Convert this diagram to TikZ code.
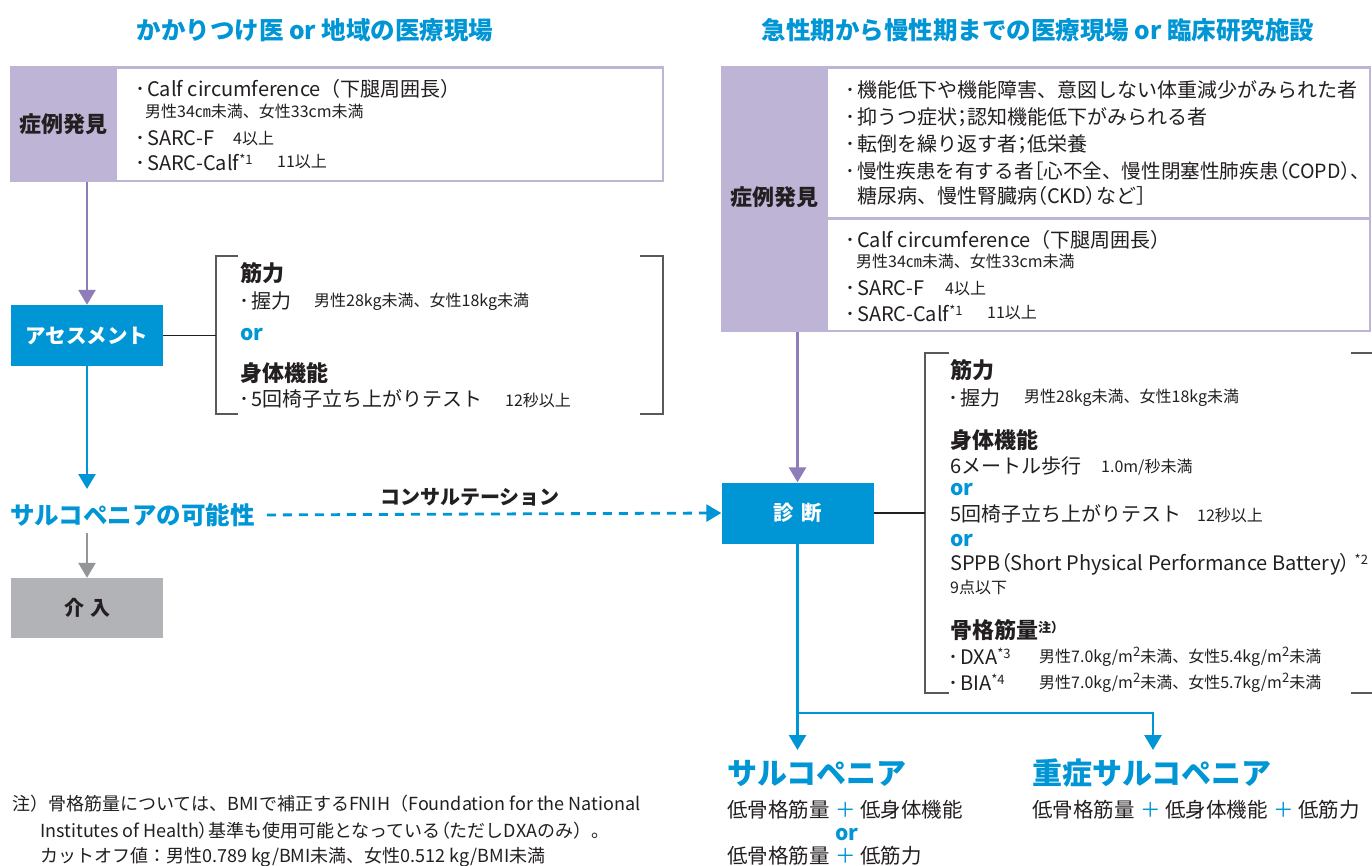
\documentclass[tikz,border=0pt]{standalone}
\usepackage{fontspec}
\setmainfont{Noto Sans CJK JP}
\usetikzlibrary{arrows.meta}
\definecolor{cblue}{RGB}{0,150,214}
\definecolor{cpurf}{RGB}{189,180,214}
\definecolor{cpura}{RGB}{142,125,184}
\definecolor{cgrayf}{RGB}{177,179,182}
\definecolor{cgraya}{RGB}{147,149,152}
\definecolor{ctext}{RGB}{35,31,32}
\definecolor{cbrk}{RGB}{88,89,91}
\newcommand\fsz[1]{\fontsize{#1}{#1}\selectfont}
\newcommand\bul{\makebox[14pt][c]{･}}
\newcommand\sups[1]{{\fsz{13}\raisebox{6pt}{#1}}}
\newcommand\pls{\hspace{6pt}{\color{cblue}＋}\hspace{4pt}}
\newcommand\pp[1]{{\addfontfeature{RawFeature=+palt}#1}}
\begin{document}
\begin{tikzpicture}[x=1pt,y=-1pt,
  txt/.style={anchor=west,inner sep=0pt,text=ctext,font=\fsz{20}},
  val/.style={anchor=west,inner sep=0pt,text=ctext,font=\fsz{16}},
  hd/.style={anchor=west,inner sep=0pt,text=ctext,font=\fsz{22}\bfseries},
  orl/.style={anchor=west,inner sep=0pt,text=cblue,font=\fsz{21}\bfseries},
  ttl/.style={inner sep=0pt,text=cblue,font=\fsz{24.5}\bfseries},
  big/.style={anchor=west,inner sep=0pt,text=cblue,font=\fsz{30}\bfseries},
  res/.style={anchor=west,inner sep=0pt,text=ctext,font=\fsz{20.5}},
  fn/.style={anchor=west,inner sep=0pt,text=ctext,font=\fsz{18}},
  lab/.style={inner sep=0pt,text=ctext,font=\fsz{22}\bfseries},
  panel/.style={fill=cpurf,anchor=north west,inner sep=0pt},
  inner/.style={fill=white,anchor=north west,inner sep=0pt},
  bluebox/.style={fill=cblue,text=white,font=\fsz{20.5}\bfseries,minimum width=152pt,minimum height=61pt,inner sep=0pt},
  graybox/.style={fill=cgrayf,text=ctext,font=\fsz{20}\bfseries,minimum width=152pt,minimum height=60pt,inner sep=0pt},
  tip/.style={-{Triangle[length=15pt,width=17pt]}},
  parr/.style={tip,draw=cpura,line width=2.8pt},
  barr/.style={tip,draw=cblue,line width=2.8pt},
  garr/.style={tip,draw=cgraya,line width=2.8pt},
  darr/.style={tip,draw=cblue,line width=2.8pt,dash pattern=on 9pt off 7pt},
  conn/.style={draw=ctext,line width=1.4pt},
  brk/.style={draw=cbrk,line width=1.6pt}
]
\useasboundingbox (0,0) rectangle (1372,866);
\fill[white] (0,0) rectangle (1372,866);

% titles
\node[ttl] (ltitle) at (315,30) {かかりつけ医 or 地域の医療現場};
\node[ttl] (rtitle) at (1038,30) {急性期から慢性期までの医療現場 or 臨床研究施設};

% left case box
\node[panel,minimum width=654pt,minimum height=116pt] (lbox) at (10,66) {};
\node[inner,minimum width=544.5pt,minimum height=111pt] (lwhite) at (117,68.5) {};
\node[lab] (lfind) at (63.5,124) {症例発見};
\node[txt] (lc1) at (133,89) {\bul Calf circumference（下腿周囲長）};
\node[val] (lc2) at (145,111) {男性34㎝未満、女性33cm未満};
\node[txt] (lc3) at (133,138) {\bul SARC-F};
\node[val] (lc3v) at (233,139) {4以上};
\node[txt] (lc4) at (133,162) {\bul SARC-Calf\sups{*1}};
\node[val] (lc4v) at (277,162) {11以上};

% assessment
\node[bluebox] (assess) at (87,335.5) {アセスメント};
\coordinate (lbk) at (216,335.5);
\draw[brk] (238,256) -| (216,414) -- (238,414);
\draw[brk] (640,256) -| (663,414) -- (640,414);
\node[hd] (lk1) at (240,273) {筋力};
\node[txt] (lk2) at (237.5,301) {\bul 握力};
\node[val] (lk2v) at (314,302) {男性28kg未満、女性18kg未満};
\node[orl] (lk3) at (240,335) {or};
\node[hd] (lk4) at (240,373) {身体機能};
\node[txt] (lk5) at (237.5,399) {\bul 5回椅子立ち上がりテスト};
\node[val] (lk5v) at (505,400) {12秒以上};

% possibility / intervention
\node[anchor=west,inner sep=0pt,text=cblue,font=\fsz{24.5}\bfseries] (possible) at (10,515) {サルコペニアの可能性};
\coordinate (ptip) at (87,489);
\coordinate (gstart) at (87,533);
\node[graybox] (interv) at (87,608) {介\hspace{6pt}入};
\node[inner sep=0pt,text=ctext,font=\fsz{20}\bfseries] (consult) at (470,497) {コンサルテーション};

% right case box
\node[panel,minimum width=650pt,minimum height=266pt] (rbox) at (721,66) {};
\node[inner,minimum width=540.5pt,minimum height=148.5pt] (rwhite1) at (828,68.5) {};
\node[inner,minimum width=540.5pt,minimum height=110pt] (rwhite2) at (828,219.5) {};
\node[lab] (rfind) at (774.5,197) {症例発見};
\node[txt] (ra1) at (843,90) {\bul 機能低下や機能障害、意図しない体重減少がみられた者};
\node[txt] (ra2) at (843,117) {\bul 抑うつ症状\pp{；}認知機能低下がみられる者};
\node[txt] (ra3) at (843,144) {\bul 転倒を繰り返す者\pp{；}低栄養};
\node[txt,font=\fsz{19.6}] (ra4) at (843,171) {\bul 慢性疾患を有する者\pp{［}心不全、慢性閉塞性肺疾患\pp{（COPD）、}};
\node[txt] (ra5) at (857,196) {糖尿病、慢性腎臓病\pp{（}CKD\pp{）}など\pp{］}};
\node[txt] (rb1) at (843,240) {\bul Calf circumference（下腿周囲長）};
\node[val] (rb2) at (856,261) {男性34㎝未満、女性33cm未満};
\node[txt] (rb3) at (843,288) {\bul SARC-F};
\node[val] (rb3v) at (945,289) {4以上};
\node[txt] (rb4) at (843,313) {\bul SARC-Calf\sups{*1}};
\node[val] (rb4v) at (987,313) {11以上};

% diagnosis
\node[bluebox] (diag) at (797.5,513) {診\hspace{8pt}断};
\coordinate (rbk) at (925,513);
\draw[brk] (949,353) -| (925,693) -- (949,693);
\draw[brk] (1351,353) -- (1372,353);
\draw[brk] (1351,693) -- (1372,693);
\node[hd] (rk1) at (950,370) {筋力};
\node[txt] (rk2) at (946,398) {\bul 握力};
\node[val] (rk2v) at (1024,398) {男性28kg未満、女性18kg未満};
\node[hd] (rk3) at (950,440) {身体機能};
\node[txt] (rk4) at (950,466) {6メートル歩行};
\node[val] (rk4v) at (1101,467) {1.0m/秒未満};
\node[orl] (rk5) at (950,490) {or};
\node[txt] (rk6) at (950,514) {5回椅子立ち上がりテスト};
\node[val] (rk6v) at (1197,515) {12秒以上};
\node[orl] (rk7) at (950,541) {or};
\node[txt] (rk8) at (950,564) {SPPB\pp{（}Short Physical Performance Battery\pp{）}\hspace{4pt}\sups{*2}};
\node[val] (rk9) at (950,587) {9点以下};
\node[hd] (rk10) at (950,630) {骨格筋量\sups{\bfseries 注）}};
\node[txt] (rk11) at (946,656) {\bul DXA\sups{*3}};
\node[val] (rk11v) at (1039,657) {男性7.0kg/m\sups{2}未満、女性5.4kg/m\sups{2}未満};
\node[txt] (rk12) at (946,682) {\bul BIA\sups{*4}};
\node[val] (rk12v) at (1039,683) {男性7.0kg/m\sups{2}未満、女性5.7kg/m\sups{2}未満};

% outcomes
\coordinate (split) at (797.5,713);
\coordinate (tipA) at (797.5,750);
\coordinate (tipB) at (1153,750);
\node[big] (sarc) at (727,773) {サルコペニア};
\node[big] (sev) at (1032,773) {重症サルコペニア};
\node[res] (s1) at (727,810) {低骨格筋量\pls 低身体機能};
\node[inner sep=0pt,text=cblue,font=\fsz{21}\bfseries] (sor) at (847,835) {or};
\node[res] (s2) at (727,856) {低骨格筋量\pls 低筋力};
\node[res] (v1) at (1032,810) {低骨格筋量\pls 低身体機能\pls 低筋力};

% footnote
\node[fn] (f1) at (12,804) {注）骨格筋量については、BMIで補正するFNIH（Foundation for the National};
\node[fn] (f2) at (40,831) {Institutes of Health\pp{）}基準も使用可能となっている\pp{（}ただしDXAのみ）。};
\node[fn] (f3) at (40,857) {カットオフ値：男性0.789 kg/BMI未満、女性0.512 kg/BMI未満};

% connectors
\draw[parr] (lbox.south -| assess.north) -- (assess.north);
\draw[conn] (assess.east) -- (lbk);
\draw[barr] (assess.south) -- (ptip);
\draw[garr] (gstart) -- (interv.north);
\draw[darr, shorten <=12pt] (possible.east) -- (diag.west);
\draw[parr] (rbox.south -| diag.north) -- (diag.north);
\draw[conn] (diag.east) -- (rbk);
\draw[barr] (diag.south) -- (tipA);
\draw[barr] (split) -| (tipB);
\end{tikzpicture}
\end{document}
